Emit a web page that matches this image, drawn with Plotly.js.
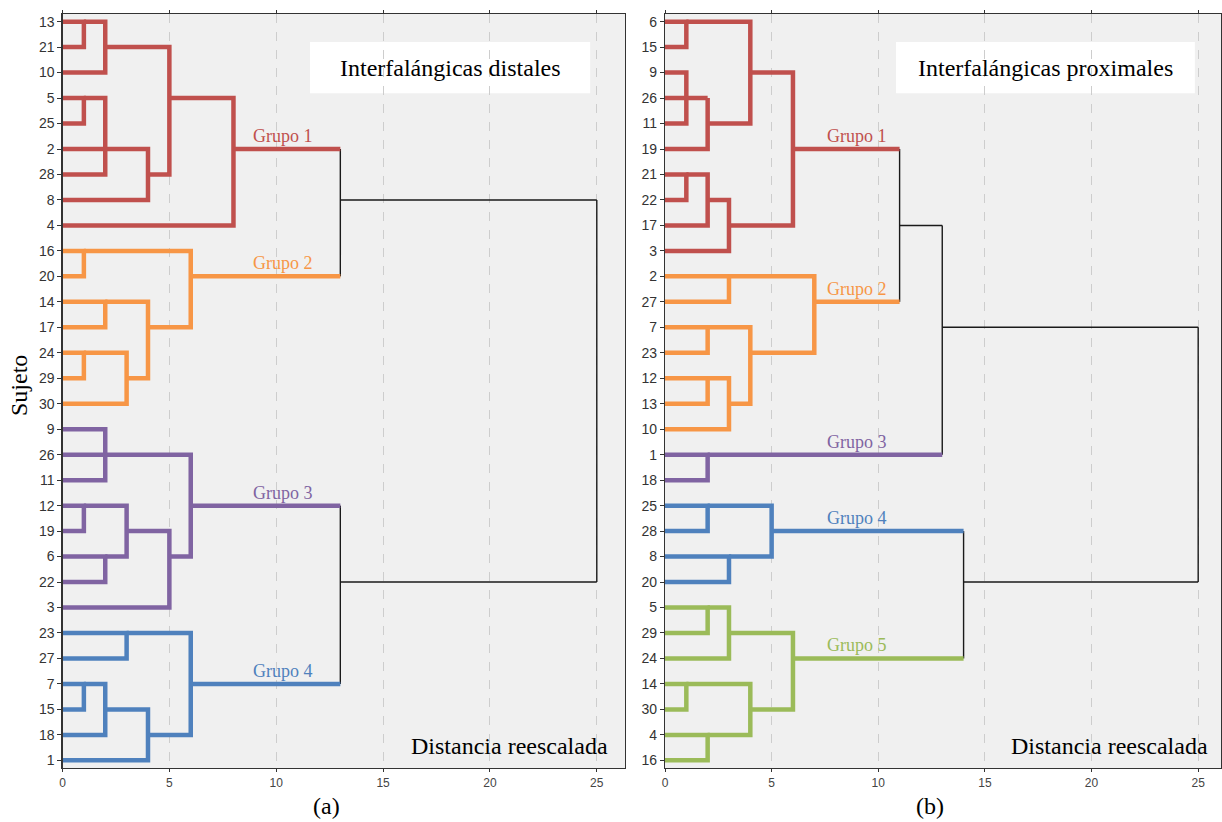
<!DOCTYPE html>
<html>
<head>
<meta charset="utf-8">
<script src="https://cdn.plot.ly/plotly-3.0.1.min.js"></script>
<style>html,body{margin:0;padding:0;background:#fff;}#chart{width:1222px;height:822px;}</style>
</head>
<body>
<div id="chart"></div>
<script>
// ---------- DATA ----------
// Panel (a): Interfalángicas distales
const leavesA = ["13","21","10","5","25","2","28","8","4","16","20","14","17","24","29","30",
                 "9","26","11","12","19","6","22","3","23","27","7","15","18","1"];
// merges: [childA, childB, rescaled distance]; "#k" refers to merge k
const mergesA = [
  ["13","21",1], ["#0","10",2], ["5","25",1], ["#2","28",2], ["2","8",4],
  ["#1","#4",5], ["#5","4",8],
  ["16","20",1], ["14","17",2], ["24","29",1], ["#9","30",3], ["#8","#10",4], ["#7","#11",6],
  ["9","11",2], ["#13","26",2], ["12","19",1], ["6","22",2], ["#15","#16",3], ["#17","3",5], ["#14","#18",6],
  ["23","27",3], ["7","15",1], ["#21","18",2], ["#22","1",4], ["#20","#23",6],
  ["#6","#12",13], ["#19","#24",13], ["#25","#26",25]
];
const groupsA = [
  ["13","21","10","5","25","2","28","8","4"],
  ["16","20","14","17","24","29","30"],
  ["9","26","11","12","19","6","22","3"],
  ["23","27","7","15","18","1"]
];
const groupColorIdxA = [0,1,2,3];

// Panel (b): Interfalángicas proximales
const leavesB = ["6","15","9","26","11","19","21","22","17","3","2","27","7","23","12","13","10",
                 "1","18","25","28","8","20","5","29","24","14","30","4","16"];
const mergesB = [
  ["6","15",1], ["9","11",1], ["#1","26",2], ["#2","19",2], ["#0","#3",4],
  ["21","22",1], ["#5","17",2], ["#6","3",3], ["#4","#7",6],
  ["2","27",3], ["7","23",2], ["12","13",2], ["#11","10",3], ["#10","#12",4], ["#9","#13",7],
  ["1","18",2],
  ["25","28",2], ["8","20",3], ["#16","#17",5],
  ["5","29",2], ["#19","24",3], ["14","30",1], ["4","16",2], ["#21","#22",4], ["#20","#23",6],
  ["#8","#14",11], ["#25","#15",13], ["#18","#24",14], ["#26","#27",25]
];
const groupsB = [
  ["6","15","9","26","11","19","21","22","17","3"],
  ["2","27","7","23","12","13","10"],
  ["1","18"],
  ["25","28","8","20"],
  ["5","29","24","14","30","4","16"]
];
const groupColorIdxB = [0,1,2,3,4];

const groupNames = ["Grupo 1","Grupo 2","Grupo 3","Grupo 4","Grupo 5"];
const xTicks = [0,5,10,15,20,25];

// ---------- STYLE ----------
const palette = ["#C0504D","#F79646","#8064A2","#4F81BD","#9BBB59"];
const black = "#1a1a1a";
const serif = "Liberation Serif, Times New Roman, serif";
const sans = "Liberation Sans Narrow, Liberation Sans, Arial, sans-serif";

function build(leaves, merges, groups, colorIdx, xa, ya, labelX) {
  const row = {}, hgt = {}, mem = {};
  leaves.forEach((l,i)=>{ row[l]=i; hgt[l]=0; mem[l]=[l]; });
  merges.forEach((m,k)=>{
    const id = "#"+k, a=m[0], b=m[1];
    row[id] = Math.floor((row[a]+row[b])/2);
    hgt[id] = m[2];
    mem[id] = mem[a].concat(mem[b]);
  });
  const groupOf = id => {
    for (let g=0; g<groups.length; g++) if (mem[id].every(x=>groups[g].includes(x))) return g;
    return -1;
  };
  const segs = {};
  const add = (col, xs, ys) => {
    if (!segs[col]) segs[col] = {x:[], y:[]};
    segs[col].x.push(...xs, null); segs[col].y.push(...ys, null);
  };
  const labels = [];
  merges.forEach((m,k)=>{
    const id="#"+k, a=m[0], b=m[1], h=m[2];
    const g = groupOf(id);
    if (g >= 0) {
      add(palette[colorIdx[g]], [hgt[a],h,h,hgt[b]], [row[a],row[a],row[b],row[b]]);
    } else {
      [a,b].forEach(c=>{
        const gc = groupOf(c);
        const col = gc>=0 ? palette[colorIdx[gc]] : black;
        add(col, [hgt[c],h], [row[c],row[c]]);
        if (gc>=0) labels.push({g:gc, y:row[c]});
      });
      add(black, [h,h], [row[a],row[b]]);
    }
  });
  const traces = [];
  Object.keys(segs).sort((p,q)=> (p===black?-1:0)-(q===black?-1:0)).forEach(col=>{
    traces.push({type:"scatter", mode:"lines", x:segs[col].x, y:segs[col].y,
      xaxis:xa, yaxis:ya, hoverinfo:"skip", showlegend:false,
      line:{color:col, width: col===black?1.4:4.5}});
  });
  const ann = labels.map(l=>({
    xref:xa, yref:ya, x:labelX, y:l.y, yanchor:"bottom", xanchor:"center", yshift:1,
    text:groupNames[l.g], showarrow:false,
    font:{family:serif, size:18, color:palette[colorIdx[l.g]]}
  }));
  return {traces, ann};
}

const A = build(leavesA, mergesA, groupsA, groupColorIdxA, "x", "y", 10.3);
const B = build(leavesB, mergesB, groupsB, groupColorIdxB, "x2", "y2", 9.0);

const xaxisBase = {
  tickvals:xTicks, ticktext:xTicks.map(String), ticks:"outside", ticklen:3, tickcolor:"#333",
  showline:true, mirror:"ticks", linecolor:"#333", linewidth:1.2,
  showgrid:true, gridcolor:"#cdcdcd", griddash:"dash", gridwidth:1, zeroline:false,
  tickfont:{family:sans, size:12, color:"#444"}, fixedrange:true
};
const yaxisBase = (leaves)=>({
  tickvals:leaves.map((_,i)=>i), ticktext:leaves, ticks:"outside", ticklen:4, tickcolor:"#333",
  showline:true, mirror:true, linecolor:"#333", linewidth:1.2,
  showgrid:false, zeroline:false, range:[29.3,-0.3],
  tickfont:{family:sans, size:14, color:"#333"}, fixedrange:true
});

const boxText = (xa, ya, x, text) => ({
  xref:xa+" domain", yref:ya+" domain", x:x, y:0.929, xanchor:"center", yanchor:"middle",
  text:text, showarrow:false, font:{family:serif, size:24, color:"#000"}
});

const layout = {
  width:1222, height:822, margin:{l:0, r:0, t:14, b:54},
  paper_bgcolor:"#fff", plot_bgcolor:"#f0f0f0", showlegend:false, hovermode:false,
  xaxis:Object.assign({}, xaxisBase, {domain:[62.5/1222, 625/1222], range:[0,26.32], anchor:"y"}),
  yaxis:Object.assign({}, yaxisBase(leavesA), {domain:[0,1], anchor:"x"}),
  xaxis2:Object.assign({}, xaxisBase, {domain:[665/1222, 1221/1222], range:[0,26.07], anchor:"y2"}),
  yaxis2:Object.assign({}, yaxisBase(leavesB), {domain:[0,1], anchor:"x2"}),
  shapes:[
    {type:"rect", xref:"x domain", yref:"y domain", x0:0.44, x1:0.938, y0:0.895, y1:0.963,
     fillcolor:"#fff", line:{width:0}, layer:"below"},
    {type:"rect", xref:"x2 domain", yref:"y2 domain", x0:0.4155, x1:0.953, y0:0.895, y1:0.963,
     fillcolor:"#fff", line:{width:0}, layer:"below"}
  ],
  annotations:[
    boxText("x","y",0.689,"Interfalángicas distales"),
    boxText("x2","y2",0.684,"Interfalángicas proximales"),
    {xref:"x domain", yref:"y domain", x:0.973, y:0.0292, xanchor:"right", yanchor:"middle",
     text:"Distancia reescalada", showarrow:false, font:{family:serif, size:24, color:"#000"}},
    {xref:"x2 domain", yref:"y2 domain", x:0.980, y:0.0292, xanchor:"right", yanchor:"middle",
     text:"Distancia reescalada", showarrow:false, font:{family:serif, size:24, color:"#000"}},
    {xref:"paper", yref:"paper", x:19/1222, y:0.5066, xanchor:"center", yanchor:"middle", textangle:-90,
     text:"Sujeto", showarrow:false, font:{family:serif, size:24, color:"#000"}},
    {xref:"paper", yref:"paper", x:326/1222, y:-0.0504, xanchor:"center", yanchor:"middle",
     text:"(a)", showarrow:false, font:{family:serif, size:24, color:"#000"}},
    {xref:"paper", yref:"paper", x:930/1222, y:-0.0504, xanchor:"center", yanchor:"middle",
     text:"(b)", showarrow:false, font:{family:serif, size:24, color:"#000"}}
  ].concat(A.ann, B.ann)
};

Plotly.newPlot("chart", A.traces.concat(B.traces), layout, {displayModeBar:false, staticPlot:true});
</script>
</body>
</html>
